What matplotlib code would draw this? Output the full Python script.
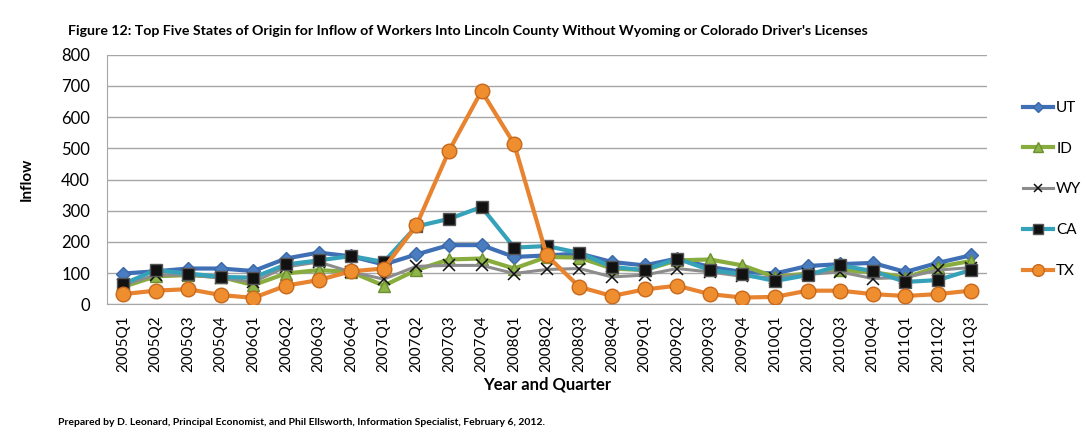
import matplotlib.pyplot as plt
import numpy as np

quarters = ["2005Q1", "2005Q2", "2005Q3", "2005Q4",
            "2006Q1", "2006Q2", "2006Q3", "2006Q4",
            "2007Q1", "2007Q2", "2007Q3", "2007Q4",
            "2008Q1", "2008Q2", "2008Q3", "2008Q4",
            "2009Q1", "2009Q2", "2009Q3", "2009Q4",
            "2010Q1", "2010Q2", "2010Q3", "2010Q4",
            "2011Q1", "2011Q2", "2011Q3"]

ut = [99, 106, 115, 115, 107, 147, 166, 154, 128, 160, 190, 190, 152, 157,
      163, 136, 125, 147, 120, 104, 99, 123, 129, 133, 104, 133, 157]
id_ = [56, 90, 94, 88, 62, 99, 110, 104, 60, 110, 144, 147, 115, 152,
       150, 115, 110, 141, 144, 125, 88, 99, 110, 104, 86, 120, 139]
wy = [62, 94, 94, 85, 72, 120, 136, 104, 81, 122, 125, 125, 99, 112,
      115, 88, 94, 115, 104, 90, 86, 96, 104, 83, 86, 110, 118]
ca = [65, 110, 99, 88, 86, 128, 141, 155, 136, 250, 274, 312, 182, 187,
      165, 120, 110, 147, 110, 97, 75, 94, 125, 107, 72, 78, 110]
tx = [33, 44, 49, 30, 21, 60, 78, 106, 115, 253, 492, 684, 514, 157,
      56, 27, 48, 60, 33, 22, 24, 44, 44, 33, 27, 33, 44]

plt.rcParams['font.family'] = ['Lato', 'DejaVu Sans']

fig = plt.figure(figsize=(10.92, 4.38), dpi=100)
ax = fig.add_axes([0.0977, 0.305, 0.806, 0.570])

x = np.arange(len(quarters))

ax.plot(x, ut, "-D", color="#3F70B5", linewidth=3, markersize=7,
        markerfacecolor="#4A7CC0", markeredgecolor="#3A68A8", label="UT", zorder=3)
ax.plot(x, id_, "-^", color="#88AD3E", linewidth=3, markersize=9,
        markerfacecolor="#8DB548", markeredgecolor="#6E8F30", label="ID", zorder=4)
ax.plot(x, wy, "-x", color="#8C8C8C", linewidth=2.2, markersize=8,
        markeredgecolor="#111111", markeredgewidth=1.1, label="WY", zorder=5)
ax.plot(x, ca, "-s", color="#36A2BA", linewidth=3, markersize=9,
        markerfacecolor="#111111", markeredgecolor="#555555", label="CA", zorder=6)
ax.plot(x, tx, "-o", color="#E8832F", linewidth=3, markersize=10.5,
        markerfacecolor="#EE8E2E", markeredgecolor="#C8681C", label="TX", zorder=7)

ax.set_xlim(-0.5, len(quarters) - 0.5)
ax.set_ylim(0, 800)
ax.set_yticks(np.arange(0, 801, 100))
ax.set_xticks(x)
ax.set_xticklabels(quarters, rotation=90, fontsize=11)
ax.tick_params(axis="x", length=0, pad=8)
ax.tick_params(axis="y", length=0, labelsize=12, pad=12)

ax.grid(axis="y", color="#A6A6A6", linewidth=1)
ax.set_axisbelow(True)
for s in ["top", "right"]:
    ax.spines[s].set_visible(False)
ax.spines["left"].set_color("#A6A6A6")
ax.spines["bottom"].set_color("#A6A6A6")

ax.set_xlabel("Year and Quarter", fontsize=12, fontweight="bold", labelpad=3)
ax.set_ylabel("Inflow", fontsize=11, fontweight="bold", labelpad=20)

ax.legend(loc="upper left", bbox_to_anchor=(1.025, 0.87), frameon=False,
          fontsize=11, labelspacing=1.75, handlelength=2.0, handletextpad=0.2,
          markerscale=0.8)

fig.text(0.062, 0.93, "Figure 12: Top Five States of Origin for Inflow of Workers Into Lincoln County "
         "Without Wyoming or Colorado Driver's Licenses", fontsize=10.2, fontweight="bold", va="center")
fig.text(0.053, 0.036, "Prepared by D. Leonard, Principal Economist, and Phil Ellsworth, "
         "Information Specialist, February 6, 2012.", fontsize=7.5, fontweight="bold", va="center")

plt.savefig("out.png", dpi=100)
plt.close()
